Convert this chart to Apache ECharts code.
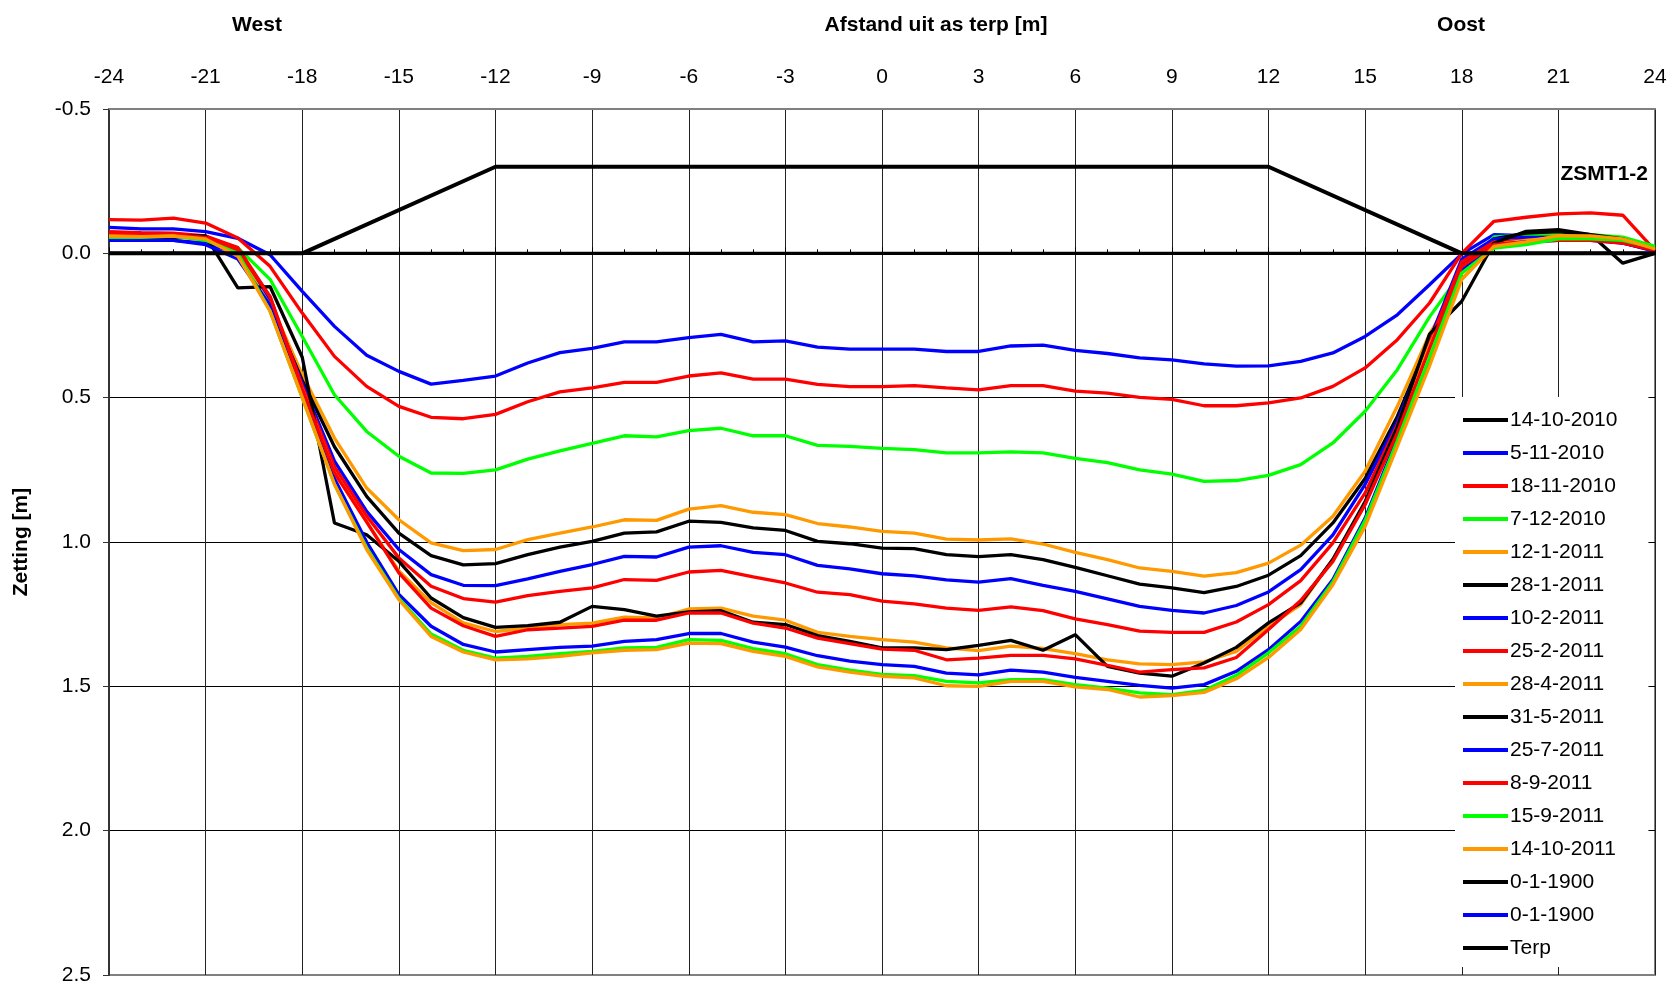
<!DOCTYPE html>
<html>
<head>
<meta charset="utf-8">
<script src="https://cdn.jsdelivr.net/npm/echarts@6/dist/echarts.min.js"></script>
<style>
html,body{margin:0;padding:0;background:#fff;}
#chart{width:1675px;height:989px;}
</style>
</head>
<body>
<div id="chart"></div>
<script>
// distance from the terp axis [m]
const distances = [-24,-23,-22,-21,-20,-19,-18,-17,-16,-15,-14,-13,-12,-11,-10,-9,-8,-7,-6,-5,-4,-3,-2,-1,0,1,2,3,4,5,6,7,8,9,10,11,12,13,14,15,16,17,18,19,20,21,22,23,24];

// settlement [m] per measurement date
const s_14_10_2010 = [0,0,0,0,0,0,0,0,0,0,0,0,0,0,0,0,0,0,0,0,0,0,0,0,0,0,0,0,0,0,0,0,0,0,0,0,0,0,0,0,0,0,0,0,0,0,0,0,0];
const s_5_11_2010 = [-0.09,-0.085,-0.085,-0.075,-0.052,0.005,0.132,0.253,0.353,0.409,0.453,0.44,
  0.425,0.38,0.344,0.329,0.307,0.307,0.292,0.281,0.307,0.303,0.325,0.332,0.332,
  0.332,0.34,0.34,0.321,0.318,0.336,0.347,0.362,0.369,0.383,0.391,0.39,
  0.374,0.345,0.288,0.213,0.109,0.002,-0.065,-0.061,-0.057,-0.05,-0.036,-0.007];
const s_18_11_2010 = [-0.117,-0.115,-0.122,-0.105,-0.053,0.045,0.207,0.357,0.461,0.53,0.568,0.573,
  0.558,0.514,0.48,0.466,0.447,0.447,0.425,0.414,0.436,0.436,0.454,0.462,0.462,
  0.458,0.466,0.473,0.458,0.458,0.477,0.484,0.499,0.506,0.528,0.528,0.518,
  0.501,0.461,0.397,0.299,0.172,0.0,-0.111,-0.125,-0.137,-0.14,-0.132,-0.01];
const s_7_12_2010 = [-0.065,-0.063,-0.065,-0.055,-0.02,0.09,0.288,0.49,0.617,0.703,0.761,0.762,
  0.75,0.713,0.684,0.658,0.632,0.636,0.614,0.606,0.632,0.632,0.665,0.669,0.676,
  0.68,0.691,0.691,0.688,0.691,0.71,0.725,0.75,0.765,0.79,0.787,0.769,
  0.732,0.657,0.547,0.403,0.22,0.065,-0.057,-0.063,-0.07,-0.065,-0.056,-0.024];
const s_12_1_2011 = [-0.058,-0.058,-0.058,-0.05,-0.01,0.17,0.42,0.64,0.813,0.923,1.003,1.03,
  1.026,0.992,0.969,0.948,0.923,0.925,0.886,0.874,0.897,0.905,0.936,0.948,0.963,
  0.969,0.99,0.993,0.989,1.007,1.036,1.061,1.09,1.102,1.118,1.106,1.073,
  1.011,0.911,0.755,0.53,0.28,0.09,-0.03,-0.05,-0.06,-0.055,-0.045,-0.015];
const s_28_1_2011 = [-0.055,-0.055,-0.055,-0.06,-0.01,0.18,0.44,0.67,0.842,0.969,1.047,1.079,
  1.075,1.044,1.018,0.998,0.969,0.965,0.928,0.932,0.951,0.96,0.998,1.006,1.021,
  1.023,1.044,1.051,1.044,1.061,1.088,1.117,1.146,1.159,1.175,1.154,1.115,
  1.047,0.934,0.78,0.565,0.3,0.04,-0.05,-0.07,-0.075,-0.065,-0.05,-0.01];
const s_10_2_2011 = [-0.045,-0.045,-0.045,-0.035,0.0,0.17,0.45,0.72,0.894,1.026,1.113,1.15,
  1.151,1.128,1.102,1.078,1.05,1.052,1.018,1.013,1.036,1.044,1.081,1.093,1.11,
  1.117,1.131,1.139,1.127,1.15,1.171,1.197,1.223,1.237,1.246,1.22,1.173,
  1.096,0.975,0.8,0.582,0.3,0.02,-0.05,-0.055,-0.055,-0.05,-0.04,-0.01];
const s_25_2_2011 = [-0.075,-0.072,-0.07,-0.06,-0.02,0.15,0.46,0.74,0.91,1.055,1.153,1.196,
  1.208,1.186,1.171,1.159,1.13,1.133,1.104,1.098,1.121,1.142,1.174,1.182,1.205,
  1.214,1.229,1.237,1.225,1.238,1.266,1.286,1.309,1.313,1.313,1.277,1.217,
  1.134,1.003,0.83,0.594,0.31,0.03,-0.04,-0.045,-0.05,-0.05,-0.04,-0.01];
const s_28_4_2011 = [-0.06,-0.06,-0.06,-0.05,0.0,0.18,0.47,0.76,0.93,1.1,1.21,1.28,
  1.31,1.298,1.286,1.281,1.26,1.263,1.232,1.229,1.257,1.271,1.313,1.327,1.338,
  1.347,1.367,1.376,1.361,1.369,1.387,1.408,1.422,1.425,1.415,1.379,1.292,
  1.217,1.06,0.87,0.6,0.32,0.07,-0.03,-0.045,-0.055,-0.05,-0.04,-0.01];
const s_31_5_2011 = [-0.06,-0.06,-0.06,-0.06,0.12,0.115,0.36,0.934,0.975,1.067,1.194,1.262,
  1.296,1.29,1.278,1.223,1.234,1.257,1.242,1.238,1.278,1.286,1.324,1.344,1.367,
  1.367,1.373,1.358,1.341,1.375,1.321,1.431,1.454,1.465,1.419,1.365,1.28,
  1.211,1.06,0.86,0.6,0.28,0.166,-0.036,-0.076,-0.082,-0.065,0.034,0.0];
const s_25_7_2011 = [-0.045,-0.045,-0.045,-0.03,0.02,0.18,0.48,0.78,1.0,1.182,1.292,1.355,
  1.381,1.373,1.365,1.361,1.344,1.338,1.317,1.317,1.347,1.364,1.394,1.413,1.425,
  1.431,1.454,1.46,1.444,1.451,1.469,1.483,1.497,1.506,1.494,1.448,1.373,
  1.275,1.13,0.917,0.64,0.37,0.06,-0.03,-0.04,-0.045,-0.045,-0.035,-0.01];
const s_8_9_2011 = [-0.07,-0.065,-0.065,-0.055,-0.01,0.15,0.47,0.76,0.93,1.107,1.229,1.29,
  1.327,1.304,1.298,1.292,1.271,1.271,1.246,1.246,1.281,1.298,1.333,1.352,1.371,
  1.375,1.408,1.402,1.393,1.393,1.405,1.427,1.451,1.442,1.436,1.4,1.303,
  1.203,1.067,0.87,0.622,0.33,0.045,-0.03,-0.04,-0.045,-0.045,-0.035,-0.01];
const s_15_9_2011 = [-0.055,-0.055,-0.06,-0.045,0.0,0.2,0.5,0.8,1.02,1.195,1.319,1.375,
  1.402,1.396,1.387,1.379,1.367,1.365,1.338,1.341,1.369,1.387,1.425,1.444,1.459,
  1.463,1.483,1.488,1.477,1.477,1.494,1.506,1.523,1.529,1.514,1.462,1.384,
  1.292,1.138,0.925,0.65,0.36,0.068,-0.018,-0.03,-0.05,-0.05,-0.045,-0.02];
const s_14_10_2011 = [-0.06,-0.058,-0.06,-0.05,0.01,0.2,0.5,0.8,1.026,1.2,1.327,1.381,
  1.408,1.405,1.396,1.384,1.375,1.373,1.35,1.352,1.379,1.396,1.433,1.451,1.465,
  1.471,1.498,1.5,1.483,1.483,1.502,1.511,1.537,1.532,1.521,1.474,1.4,
  1.303,1.148,0.946,0.669,0.39,0.09,-0.024,-0.04,-0.061,-0.06,-0.05,-0.015];
const s_empty1 = [];
const s_empty2 = [];

// terp profile
const terpX = [-24,-18,-12,12,18,24];
const terpY = [0,0,-0.3,-0.3,0,0];

// tick labels
const xTicks = [-24,-21,-18,-15,-12,-9,-6,-3,0,3,6,9,12,15,18,21,24];
const yTicks = [-0.5,0.0,0.5,1.0,1.5,2.0,2.5];

const seriesNames = ['14-10-2010','5-11-2010','18-11-2010','7-12-2010','12-1-2011','28-1-2011','10-2-2011','25-2-2011','28-4-2011','31-5-2011','25-7-2011','8-9-2011','15-9-2011','14-10-2011','0-1-1900','0-1-1900 ','Terp'];
const seriesValues = [s_14_10_2010,s_5_11_2010,s_18_11_2010,s_7_12_2010,s_12_1_2011,s_28_1_2011,s_10_2_2011,s_25_2_2011,s_28_4_2011,s_31_5_2011,s_25_7_2011,s_8_9_2011,s_15_9_2011,s_14_10_2011,s_empty1,s_empty2,null];

const BLACK='#000000', BLUE='#0000FF', RED='#FF0000', GREEN='#00FF00', ORANGE='#FF9900';
const seriesColors = [BLACK,BLUE,RED,GREEN,ORANGE,BLACK,BLUE,RED,ORANGE,BLACK,BLUE,RED,GREEN,ORANGE,BLACK,BLUE,BLACK];

const FONT = '"Liberation Sans", Arial, sans-serif';

const series = seriesNames.map((name, i) => {
  let data;
  if (name === 'Terp') data = terpX.map((x, j) => [x, terpY[j]]);
  else data = seriesValues[i].map((v, j) => [distances[j], v]);
  return {
    name: name,
    type: 'line',
    data: data,
    symbol: 'none',
    showSymbol: false,
    color: seriesColors[i],
    lineStyle: { color: seriesColors[i], width: name === 'Terp' ? 4 : 3.3 },
    z: 3,
    animation: false
  };
});

const chart = echarts.init(document.getElementById('chart'), null, {renderer: 'canvas'});
chart.setOption({
  animation: false,
  backgroundColor: '#ffffff',
  grid: { left: 109, right: 20, top: 109, bottom: 14, show: true, borderColor: '#808080', borderWidth: 2, backgroundColor: 'transparent' },
  xAxis: [
    {
      type: 'value', position: 'top', min: -24, max: 24, interval: 3,
      axisLine: { show: true, onZero: false, lineStyle: { color: '#808080', width: 2 } },
      axisTick: { show: false },
      axisLabel: { show: true, color: '#000', fontSize: 21, fontFamily: FONT, margin: 21,
        formatter: v => xTicks.includes(v) ? String(v) : '' },
      splitLine: { show: true, lineStyle: { color: '#222', width: 1 } }
    },
    {
      type: 'value', position: 'bottom', min: -24, max: 24, interval: 3,
      axisLine: { show: true, onZero: true, lineStyle: { color: '#000', width: 2 } },
      axisTick: { show: true, inside: true, length: 6, lineStyle: { color: '#000', width: 1 } },
      minorTick: { show: true, splitNumber: 3, length: 4, lineStyle: { color: '#000', width: 1 } },
      axisLabel: { show: false },
      splitLine: { show: false }
    }
  ],
  yAxis: {
    type: 'value', inverse: true, min: -0.5, max: 2.5, interval: 0.5,
    name: 'Zetting [m]', nameLocation: 'middle', nameGap: 77,
    nameTextStyle: { color: '#000', fontSize: 21, fontWeight: 'bold', fontFamily: FONT },
    axisLine: { show: true, onZero: false, lineStyle: { color: '#333', width: 2 } },
    axisTick: { show: true, inside: false, length: 6, lineStyle: { color: '#333', width: 1 } },
    axisLabel: { color: '#000', fontSize: 21, fontFamily: FONT, margin: 18,
      formatter: v => yTicks.some(t => Math.abs(t - v) < 1e-9) ? v.toFixed(1) : '' },
    splitLine: { show: true, lineStyle: { color: ['#808080','#000','#000','#000','#000','#000','#808080'], width: 1 } }
  },
  legend: {
    show: true, orient: 'vertical', left: 1455, top: 397,
    padding: [12, 31, 8, 8],
    backgroundColor: '#ffffff',
    borderWidth: 0,
    icon: 'rect', itemWidth: 45, itemHeight: 4, itemGap: 11,
    selectedMode: false,
    textStyle: { color: '#000', fontSize: 21, fontFamily: FONT, lineHeight: 22, padding: [0,0,0,-3] },
    data: seriesNames.map((n, i) => ({ name: n, itemStyle: { color: seriesColors[i] } })),
    z: 10
  },
  graphic: [
    { type: 'text', x: 257, y: 25, z: 10, style: { text: 'West', font: 'bold 21px ' + FONT, fill: '#000', align: 'center', verticalAlign: 'middle' } },
    { type: 'text', x: 936, y: 25, z: 10, style: { text: 'Afstand uit as terp [m]', font: 'bold 21px ' + FONT, fill: '#000', align: 'center', verticalAlign: 'middle' } },
    { type: 'text', x: 1461, y: 25, z: 10, style: { text: 'Oost', font: 'bold 21px ' + FONT, fill: '#000', align: 'center', verticalAlign: 'middle' } },
    { type: 'text', x: 1648, y: 174, z: 10, style: { text: 'ZSMT1-2', font: 'bold 21px ' + FONT, fill: '#000', align: 'right', verticalAlign: 'middle' } }
  ],
  series: series
});
</script>
</body>
</html>
